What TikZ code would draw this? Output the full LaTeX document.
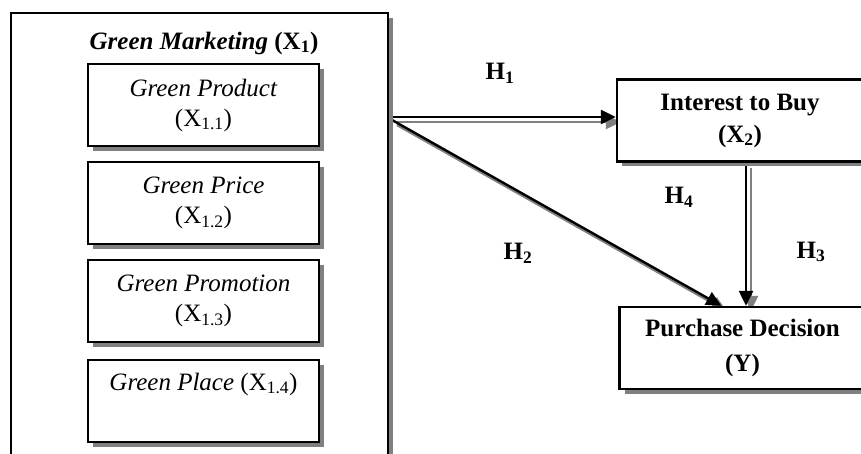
\documentclass[tikz,border=0pt]{standalone}
\usepackage{fontspec}
\setmainfont{Liberation Serif}
\usetikzlibrary{arrows.meta,shadows,calc,backgrounds}
\definecolor{shadowgray}{RGB}{128,128,128}
\tikzset{
  box/.style={draw, line width=2.4pt, fill=white, align=center, inner sep=0pt,
    drop shadow={shadow xshift=5pt, shadow yshift=-5pt, fill=shadowgray, opacity=1}},
  subbox/.style={box, minimum width=231pt, minimum height=82pt},
  varbox/.style={box, minimum width=246pt, minimum height=82pt},
  link/.style={line width=2.4pt, -{Triangle[length=15pt,width=14pt]}},
  linkshadow/.style={link, draw=shadowgray, transform canvas={shift={(5pt,-5pt)}}}
}
\begin{document}
\begin{tikzpicture}
[x=1pt, y=-1pt, font=\fontsize{25}{30}\selectfont]
  \clip (0,0) rectangle (861,454);
  % green marketing block
  \node [box, minimum width=377pt, minimum height=480pt, anchor=north west] (gm) at (10,12) {};
  \node (gmtitle) at (204,43) {\textbf{\textit{Green Marketing}} \textbf{(X\textsubscript{1})}};
  \node [subbox] (prod)  at (203.5,105) {\textit{Green Product}\\(X\textsubscript{1.1})};
  \node [subbox] (price) at (203.5,203) {\textit{Green Price}\\(X\textsubscript{1.2})};
  \node [subbox] (promo) at (203.5,301) {\textit{Green Promotion}\\(X\textsubscript{1.3})};
  \node [subbox] (place) at (203.5,401) {\textit{Green Place} (X\textsubscript{1.4})\\\strut};
  % dependent side
  \node [varbox, font=\fontsize{25}{32}\selectfont\bfseries] (buy) at (740,120.5) {Interest to Buy\\(X\textsubscript{2})};
  \node [varbox, font=\fontsize{25}{35}\selectfont\bfseries] (pd) at (742.5,348) {Purchase Decision\\(Y)};
  % hypothesis labels
  \node (h1) at (500,73)  {\textbf{H\textsubscript{1}}};
  \node (h2) at (518,253) {\textbf{H\textsubscript{2}}};
  \node (h4) at (679,197) {\textbf{H\textsubscript{4}}};
  \node (h3) at (811,252) {\textbf{H\textsubscript{3}}};
  \coordinate (gm-out)  at (392,117);
  \coordinate (gm-diag) at (392,120);
  \coordinate (buy-in)  at (buy.west |- gm-out);
  \coordinate (pd-diag) at ($(pd.north west)+(103,0)$);
  \coordinate (buy-out) at ($(buy.south)+(6,0)$);
  \coordinate (pd-top)  at (buy-out |- pd.north);
  \begin{pgfonlayer}{background}
  \foreach \from/\to in {gm-out/buy-in,gm-diag/pd-diag,buy-out/pd-top}
  {
    \draw [linkshadow] (\from) -- (\to);
    \draw [link] (\from) -- (\to);
  }
  \end{pgfonlayer}
\end{tikzpicture}
\end{document}
